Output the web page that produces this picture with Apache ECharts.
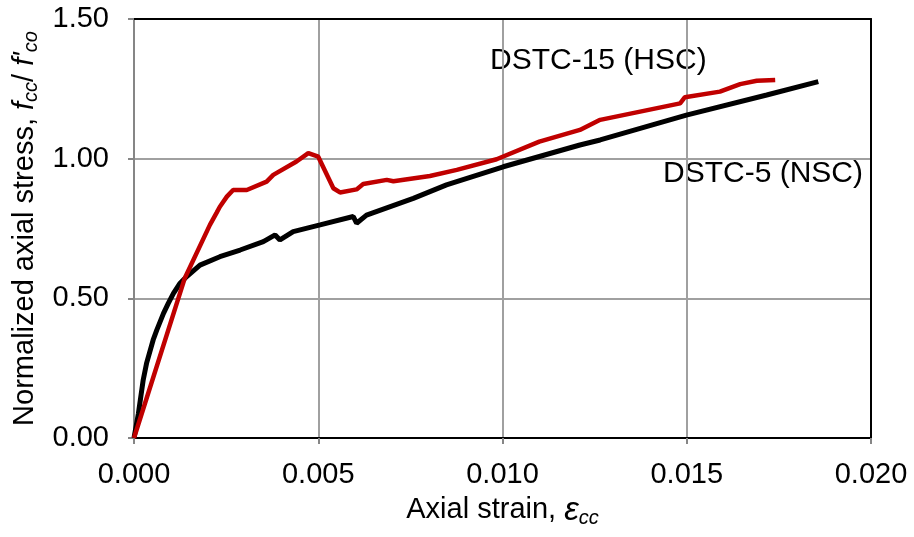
<!DOCTYPE html>
<html>
<head>
<meta charset="utf-8">
<script src="https://cdn.jsdelivr.net/npm/echarts@6/dist/echarts.min.js"></script>
<style>html,body{margin:0;padding:0;background:#fff}#c{width:914px;height:537px}</style>
</head>
<body>
<div id="c"></div>
<script>
// DSTC-15 (HSC)
const hscStrain = [0, 0.00138, 0.00206, 0.00224, 0.00233, 0.00252, 0.00269, 0.00306, 0.0036, 0.00378, 0.00441, 0.00473, 0.005, 0.00541, 0.00559, 0.00604, 0.00622, 0.00686, 0.00704, 0.00803, 0.00876, 0.00984, 0.011, 0.0121, 0.01265, 0.01482, 0.01495, 0.0159, 0.01645, 0.0169, 0.0174];
const hscStress = [0, 0.573, 0.763, 0.806, 0.828, 0.864, 0.888, 0.888, 0.918, 0.942, 0.99, 1.02, 1.007, 0.894, 0.879, 0.89, 0.909, 0.924, 0.919, 0.938, 0.96, 0.998, 1.061, 1.103, 1.139, 1.198, 1.22, 1.24, 1.267, 1.279, 1.282];
// DSTC-5 (NSC)
const nscStrain = [0, 0.00012, 0.00025, 0.00034, 0.00052, 0.00062, 0.0008, 0.00093, 0.00107, 0.00125, 0.00143, 0.00179, 0.00233, 0.00288, 0.00351, 0.00383, 0.00396, 0.00432, 0.00505, 0.00595, 0.00604, 0.00631, 0.00758, 0.00848, 0.01002, 0.0121, 0.01265, 0.01499, 0.01717, 0.01857];
const nscStress = [0, 0.088, 0.208, 0.267, 0.351, 0.387, 0.446, 0.482, 0.518, 0.554, 0.578, 0.619, 0.649, 0.673, 0.703, 0.727, 0.709, 0.739, 0.763, 0.793, 0.769, 0.798, 0.858, 0.906, 0.971, 1.049, 1.067, 1.156, 1.228, 1.276];
const seriesNames = ['DSTC-15 (HSC)', 'DSTC-5 (NSC)'];

const hsc = hscStrain.map((x, i) => [x, hscStress[i]]);
const nsc = nscStrain.map((x, i) => [x, nscStress[i]]);

const FONT = 'Liberation Sans, Arial, sans-serif';
const FS = 29;
const chart = echarts.init(document.getElementById('c'));
chart.setOption({
  animation: false,
  backgroundColor: '#fff',
  grid: { left: 134, right: 43, top: 19, bottom: 99 },
  xAxis: [{
    type: 'value', min: 0, max: 0.02, interval: 0.005,
    axisLine: { show: true, lineStyle: { color: '#000', width: 2 } },
    axisTick: { show: true, length: 6, inside: false, lineStyle: { color: '#868686', width: 2 } },
    axisLabel: { margin: 22, fontSize: FS, color: '#000', fontFamily: FONT, formatter: v => v.toFixed(3) },
    splitLine: { show: true, lineStyle: { color: '#a0a0a0', width: 2 } },
    name: 'Axial strain, {e|ε}{s|cc}',
    nameLocation: 'middle', nameGap: 52,
    nameTextStyle: { fontSize: FS, color: '#000', fontFamily: FONT,
      rich: { e: { fontSize: 33, fontStyle: 'italic', fontFamily: FONT, color: '#000' },
              s: { fontSize: 20, fontStyle: 'italic', fontFamily: FONT, color: '#000', padding: [16, 0, 0, 0] } } }
  }, {
    type: 'value', position: 'top', min: 0, max: 0.02, interval: 0.005,
    axisLine: { show: true, onZero: false, lineStyle: { color: '#000', width: 2 } },
    axisTick: { show: false }, axisLabel: { show: false }, splitLine: { show: false }
  }],
  yAxis: [{
    type: 'value', min: 0, max: 1.5, interval: 0.5,
    axisLine: { show: true, lineStyle: { color: '#868686', width: 2 } },
    axisTick: { show: true, length: 6, inside: false, lineStyle: { color: '#868686', width: 2 } },
    axisLabel: { margin: 25, fontSize: FS, color: '#000', fontFamily: FONT, formatter: v => v.toFixed(2) },
    splitLine: { show: true, lineStyle: { color: '#a0a0a0', width: 2 } },
    name: 'Normalized axial stress, {i|f}{s|cc}{n|/ }{i|f\'}{s|co}',
    nameLocation: 'middle', nameGap: 88,
    nameTextStyle: { fontSize: FS, color: '#000', fontFamily: FONT,
      rich: { i: { fontSize: FS, fontStyle: 'italic', fontFamily: FONT, color: '#000' },
              n: { fontSize: FS, fontFamily: FONT, color: '#000' },
              s: { fontSize: 20, fontStyle: 'italic', fontFamily: FONT, color: '#000', padding: [14, 0, 0, 0] } } }
  }, {
    type: 'value', position: 'right', min: 0, max: 1.5, interval: 0.5,
    axisLine: { show: true, onZero: false, lineStyle: { color: '#000', width: 2 } },
    axisTick: { show: false }, axisLabel: { show: false }, splitLine: { show: false }
  }],
  series: [
    { name: seriesNames[1], type: 'line', data: nsc, showSymbol: false, smooth: false,
      lineStyle: { color: '#000', width: 5 }, z: 3 },
    { name: seriesNames[0], type: 'line', data: hsc, showSymbol: false, smooth: false,
      lineStyle: { color: '#c00000', width: 4.5 }, z: 4 }
  ],
  graphic: [
    { type: 'text', left: 490, top: 46, style: { text: seriesNames[0], font: '30px ' + FONT, fill: '#000' } },
    { type: 'text', right: 51, top: 159, style: { text: seriesNames[1], font: '30px ' + FONT, fill: '#000' } }
  ]
});
</script>
</body>
</html>
